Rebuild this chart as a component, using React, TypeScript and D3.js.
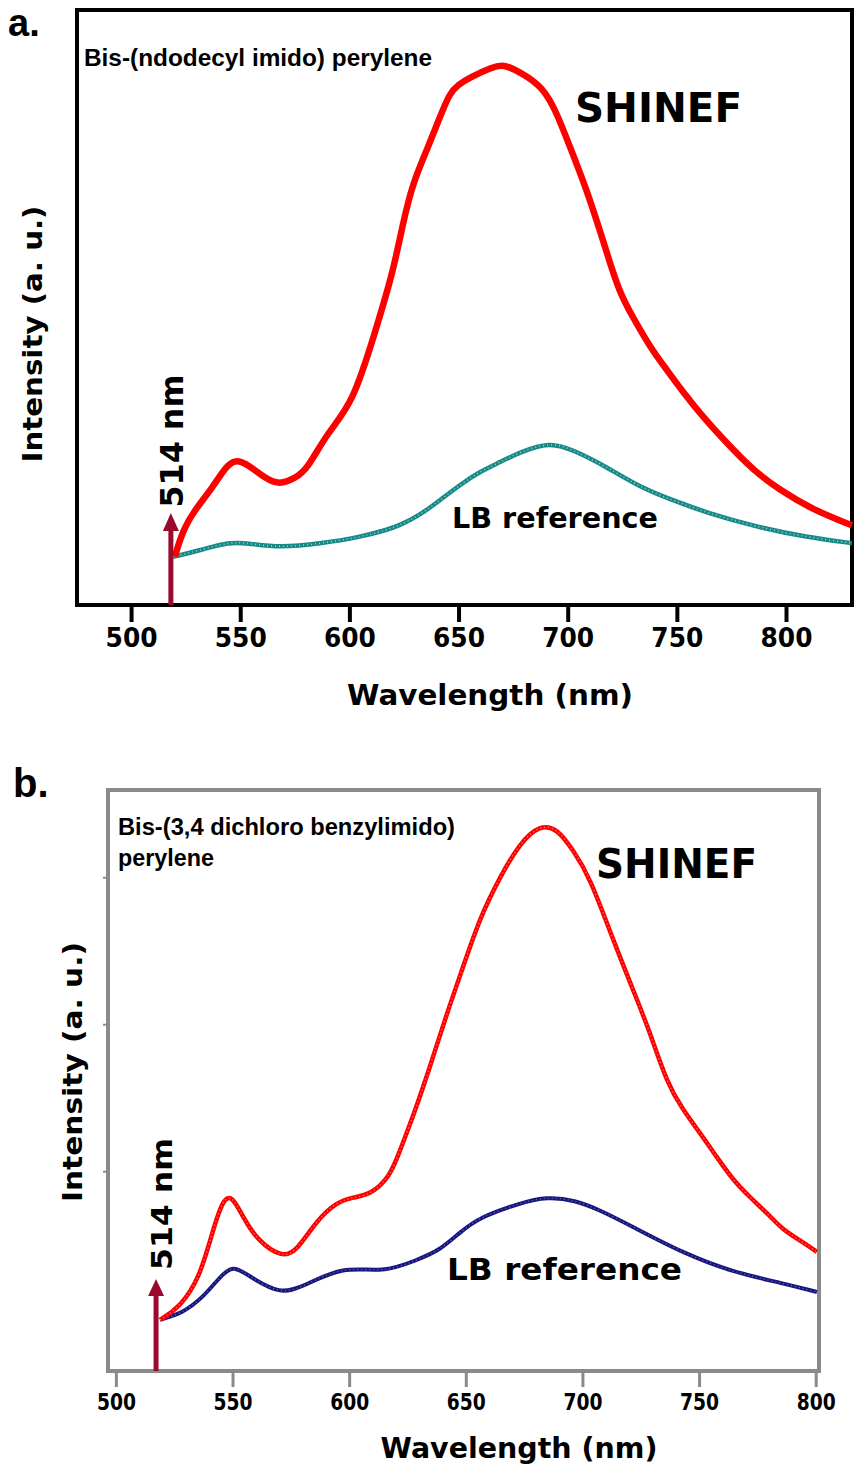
import React from "react";
import * as d3 from "d3";

// ---------- Data ----------
const ticksWavelength = [500, 550, 600, 650, 700, 750, 800];

// Panel a: Bis-(ndodecyl imido) perylene
const wlA_shinef = [519.8, 523.5, 529, 537.2, 542.7, 547.3, 554.2, 561.1, 567.9, 574.8, 580.3, 589.5, 601.4, 611.4, 619.7, 624.3, 628.8, 635.3, 641.2, 645.8, 649.5, 655, 665.5, 670.1, 677.9, 688.4, 694.8, 700.8, 708.6, 715.9, 717.7, 723.6, 729.6, 737.4, 745.2, 752.6, 761.7, 772.7, 784.6, 797.0, 812.1, 829.9];
const intA_shinef = [8.1, 12.6, 16.0, 19.8, 23.0, 24.6, 23.4, 21.3, 20.2, 21.3, 22.7, 28.9, 33.9, 45.7, 55.8, 64.2, 70.9, 76.5, 82.0, 86.1, 87.4, 88.7, 90.4, 90.9, 89.6, 87.1, 82.7, 77.0, 69.7, 61.3, 59.2, 52.4, 48.4, 43.4, 39.5, 35.8, 31.6, 27.2, 22.7, 19.3, 16.0, 13.4];
const wlA_lb = [518.9, 531.3, 545.0, 552.8, 567.9, 587.6, 603.2, 616.9, 622.9, 632.0, 641.2, 650.4, 659.5, 668.7, 677.9, 691.6, 702.1, 717.7, 732.8, 747.9, 763.5, 786.4, 809.3, 829.9];
const intA_lb = [8.1, 9.2, 10.6, 10.4, 9.6, 10.4, 11.3, 12.6, 13.4, 15.1, 17.6, 20.2, 22.4, 24.0, 25.7, 27.4, 26.1, 23.2, 19.8, 17.6, 15.5, 13.1, 11.4, 10.4];

// Panel b: Bis-(3,4 dichloro benzylimido) perylene
const wlB_shinef = [518.7, 527.3, 535.9, 541.4, 545.7, 549.6, 554.3, 560.3, 571.4, 577.5, 586.0, 594.6, 601.5, 608.7, 617.3, 621.6, 627.1, 634.4, 641.7, 648.6, 655.9, 664.4, 673.0, 681.6, 688.9, 695.7, 703.0, 712.9, 723.2, 728.8, 736.0, 742.9, 750.2, 757.4, 764.3, 771.6, 778.9, 785.7, 793.0, 800.3];
const intB_shinef = [8.8, 11.0, 16.2, 24.3, 29.6, 30.2, 26.5, 22.5, 19.4, 20.8, 26.0, 29.1, 29.9, 30.3, 33.4, 38.0, 43.7, 52.3, 61.6, 69.5, 78.1, 85.0, 90.9, 94.0, 93.4, 89.7, 85.0, 74.2, 63.9, 58.2, 49.6, 44.9, 41.0, 36.8, 32.9, 29.9, 27.2, 24.3, 22.5, 20.5];
const wlB_lb = [518.7, 528.6, 537.2, 544.4, 550.0, 557.3, 570.1, 580.0, 597.1, 614.3, 628.9, 638.8, 647.3, 655.9, 673.0, 684.6, 696.6, 707.3, 721.5, 742.9, 764.3, 785.7, 800.3];
const intB_lb = [8.8, 10.0, 12.7, 16.2, 18.3, 16.2, 13.2, 14.5, 18.1, 16.9, 19.1, 20.8, 23.9, 26.5, 28.9, 30.0, 29.4, 27.7, 24.8, 20.3, 17.0, 15.1, 13.6];
const yTicksB = [34.3, 59.6, 84.9];

const excitationA = 518;
const excitationB = 517;

// ---------- Scales ----------
const xA = d3.scaleLinear().domain([475, 830]).range([77, 852]);
const yA = d3.scaleLinear().domain([0, 100]).range([605, 10]);
const xB = d3.scaleLinear().domain([496.4, 801.2]).range([108, 819]);
const yB = d3.scaleLinear().domain([0, 100]).range([1371, 790]);

function linePath(xs: number[], ys: number[], x: any, y: any) {
  const pts = xs.map((w, i) => [w, ys[i]] as [number, number]);
  return d3
    .line<[number, number]>()
    .x((d) => x(d[0]))
    .y((d) => y(d[1]))
    .curve(d3.curveBasis)(pts) as string;
}

const BOLD = "'DejaVu Sans', Verdana, sans-serif";
const ARIAL = "'Liberation Sans', Arial, sans-serif";
const ARROW = "#9a0a2c";

export default function App() {
  const aRed = linePath(wlA_shinef, intA_shinef, xA, yA);
  const aTeal = linePath(wlA_lb, intA_lb, xA, yA);
  const bRed = linePath(wlB_shinef, intB_shinef, xB, yB);
  const bBlue = linePath(wlB_lb, intB_lb, xB, yB);

  const axA = xA(excitationA);
  const axB = xB(excitationB);

  return (
    <>
      <style>{`body{margin:0;}`}</style>
      <svg width={854} height={1466} style={{ display: "block", background: "#fff" }}>
        {/* ================= Panel a ================= */}
        <text x={8} y={36} fontFamily={ARIAL} fontWeight="bold" fontSize={38}>a.</text>
        <rect x={xA.range()[0]} y={yA.range()[1]} width={xA.range()[1] - xA.range()[0]} height={yA.range()[0] - yA.range()[1]} fill="none" stroke="#000" strokeWidth={4} />
        {ticksWavelength.map((t) => (
          <g key={"ta" + t}>
            <line x1={xA(t)} x2={xA(t)} y1={605} y2={622} stroke="#000" strokeWidth={4} />
            <text x={xA(t)} y={647} textAnchor="middle" fontFamily={BOLD} fontWeight="bold" fontSize={26} textLength={52} lengthAdjust="spacingAndGlyphs">{t}</text>
          </g>
        ))}
        <text x={490} y={705} textAnchor="middle" fontFamily={BOLD} fontWeight="bold" fontSize={29} textLength={286} lengthAdjust="spacingAndGlyphs">Wavelength (nm)</text>
        <text transform="translate(42,334) rotate(-90)" textAnchor="middle" fontFamily={BOLD} fontWeight="bold" fontSize={26} textLength={257} lengthAdjust="spacingAndGlyphs">Intensity (a. u.)</text>
        <text x={84} y={66} fontFamily={ARIAL} fontWeight="bold" fontSize={23} textLength={348} lengthAdjust="spacingAndGlyphs">Bis-(ndodecyl imido) perylene</text>

        <path d={aTeal} fill="none" stroke="#178a88" strokeWidth={4.5} />
        <path d={aTeal} fill="none" stroke="#bfe3e2" strokeWidth={1.5} strokeDasharray="1 3" opacity={0.8} />
        <path d={aRed} fill="none" stroke="#ff0000" strokeWidth={6.5} />

        {/* excitation arrow a */}
        <line x1={axA} x2={axA} y1={605} y2={528} stroke={ARROW} strokeWidth={5} />
        <path d={`M${axA - 8},${531} L${axA},${513} L${axA + 8},${531} Z`} fill={ARROW} />
        <text transform={`translate(183,441) rotate(-90)`} textAnchor="middle" fontFamily={BOLD} fontWeight="bold" fontSize={32} textLength={133} lengthAdjust="spacingAndGlyphs">514 nm</text>

        <text x={575} y={122} fontFamily={BOLD} fontWeight="bold" fontSize={40} textLength={167} lengthAdjust="spacingAndGlyphs">SHINEF</text>
        <text x={452} y={528} fontFamily={BOLD} fontWeight="bold" fontSize={29} textLength={206} lengthAdjust="spacingAndGlyphs">LB reference</text>

        {/* ================= Panel b ================= */}
        <text x={13} y={797} fontFamily={ARIAL} fontWeight="bold" fontSize={40}>b.</text>
        <rect x={xB.range()[0]} y={yB.range()[1]} width={xB.range()[1] - xB.range()[0]} height={yB.range()[0] - yB.range()[1]} fill="none" stroke="#8a8a8a" strokeWidth={4} />
        {yTicksB.map((t) => (
          <line key={"yb" + t} x1={103} x2={108} y1={yB(t)} y2={yB(t)} stroke="#8a8a8a" strokeWidth={2} />
        ))}
        {ticksWavelength.map((t) => (
          <g key={"tb" + t}>
            <line x1={xB(t)} x2={xB(t)} y1={1371} y2={1387} stroke="#8a8a8a" strokeWidth={3} />
            <text x={xB(t)} y={1410} textAnchor="middle" fontFamily={BOLD} fontWeight="bold" fontSize={23} textLength={39} lengthAdjust="spacingAndGlyphs">{t}</text>
          </g>
        ))}
        <text x={519} y={1458} textAnchor="middle" fontFamily={BOLD} fontWeight="bold" fontSize={28} textLength={277} lengthAdjust="spacingAndGlyphs">Wavelength (nm)</text>
        <text transform="translate(82,1072) rotate(-90)" textAnchor="middle" fontFamily={BOLD} fontWeight="bold" fontSize={26} textLength={260} lengthAdjust="spacingAndGlyphs">Intensity (a. u.)</text>
        <text x={118} y={835} fontFamily={ARIAL} fontWeight="bold" fontSize={23} textLength={337} lengthAdjust="spacingAndGlyphs">Bis-(3,4 dichloro benzylimido)</text>
        <text x={118} y={866} fontFamily={ARIAL} fontWeight="bold" fontSize={23} textLength={96} lengthAdjust="spacingAndGlyphs">perylene</text>

        <path d={bBlue} fill="none" stroke="#16167e" strokeWidth={4} />
        <path d={bBlue} fill="none" stroke="#9b9bd0" strokeWidth={1.2} strokeDasharray="1 3" opacity={0.7} />
        <path d={bRed} fill="none" stroke="#ff0000" strokeWidth={4.5} />
        <path d={bRed} fill="none" stroke="#ffb0b0" strokeWidth={1.2} strokeDasharray="1 3" opacity={0.8} />

        {/* excitation arrow b */}
        <line x1={axB} x2={axB} y1={1371} y2={1293} stroke={ARROW} strokeWidth={5} />
        <path d={`M${axB - 8},${1296} L${axB},${1279} L${axB + 8},${1296} Z`} fill={ARROW} />
        <text transform={`translate(172,1204) rotate(-90)`} textAnchor="middle" fontFamily={BOLD} fontWeight="bold" fontSize={28} textLength={132} lengthAdjust="spacingAndGlyphs">514 nm</text>

        <text x={596} y={878} fontFamily={BOLD} fontWeight="bold" fontSize={40} textLength={161} lengthAdjust="spacingAndGlyphs">SHINEF</text>
        <text x={447} y={1280} fontFamily={BOLD} fontWeight="bold" fontSize={31} textLength={235} lengthAdjust="spacingAndGlyphs">LB reference</text>
      </svg>
    </>
  );
}
